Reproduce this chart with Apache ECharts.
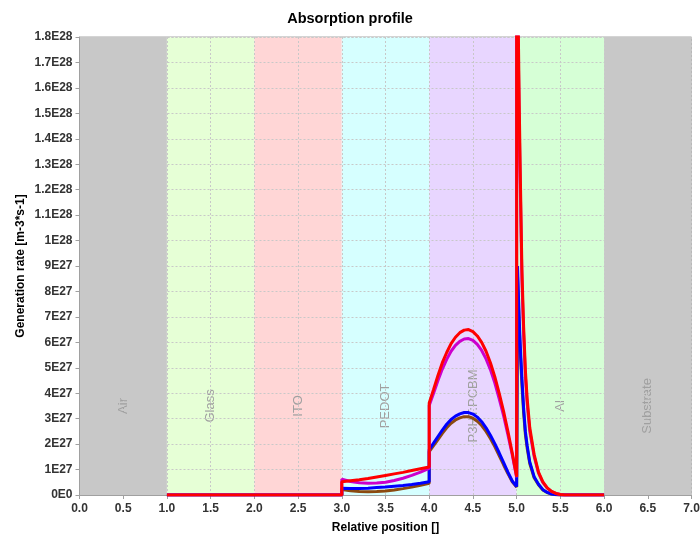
<!DOCTYPE html>
<html>
<head>
<meta charset="utf-8">
<script src="https://cdn.jsdelivr.net/npm/echarts@6/dist/echarts.min.js"></script>
<style>
  html, body { margin: 0; padding: 0; background: #ffffff; }
  #chart { width: 700px; height: 542px; }
</style>
</head>
<body>
<div id="chart"></div>
<script>
// Layer stack along the relative position axis
const layerNames = ['Air', 'Glass', 'ITO', 'PEDOT', 'P3HT:PCBM', 'Al', 'Substrate'];
const layerStart = [0, 1, 2, 3, 4, 5, 6];
const layerEnd   = [1, 2, 3, 4, 5, 6, 7];
const layerColors = ['#c8c8c8', '#e6ffd6', '#ffd6d6', '#d6ffff', '#e8d6ff', '#d6ffd6', '#c8c8c8'];

// Generation rate values are given in units of 1E27 m^-3 s^-1
const UNIT = 1e27;

// Glass and ITO: no generation
const frontX = [1.0, 3.0];
const frontZero = [0, 0];

// PEDOT layer
const pedotX = [3.0, 3.1, 3.2, 3.3, 3.4, 3.5, 3.6, 3.7, 3.8, 3.9, 4.0];
const pedotBrown   = [0.22, 0.17, 0.14, 0.13, 0.14, 0.16, 0.20, 0.25, 0.31, 0.38, 0.46];
const pedotBlue    = [0.27, 0.26, 0.26, 0.27, 0.29, 0.31, 0.34, 0.37, 0.41, 0.46, 0.52];
const pedotMagenta = [0.62, 0.53, 0.48, 0.46, 0.47, 0.50, 0.57, 0.66, 0.77, 0.90, 1.05];
const pedotRed     = [0.52, 0.56, 0.60, 0.65, 0.71, 0.77, 0.83, 0.89, 0.96, 1.03, 1.10];

// P3HT:PCBM active layer
const activeX = [4.0, 4.05, 4.1, 4.15, 4.2, 4.25, 4.3, 4.35, 4.4, 4.45, 4.5,
                 4.55, 4.6, 4.65, 4.7, 4.75, 4.8, 4.85, 4.9, 4.95, 5.0];
const activeBrown   = [1.70, 1.94, 2.18, 2.42, 2.64, 2.82, 2.95, 3.03, 3.08, 3.08, 3.02,
                       2.90, 2.73, 2.50, 2.22, 1.90, 1.55, 1.19, 0.84, 0.52, 0.31];
const activeBlue    = [1.78, 2.04, 2.30, 2.55, 2.78, 2.97, 3.10, 3.19, 3.24, 3.24, 3.18,
                       3.06, 2.88, 2.64, 2.35, 2.02, 1.66, 1.28, 0.90, 0.55, 0.33];
const activeMagenta = [3.52, 4.00, 4.50, 4.95, 5.33, 5.65, 5.88, 6.04, 6.13, 6.15, 6.08,
                       5.92, 5.68, 5.35, 4.93, 4.41, 3.79, 3.13, 2.37, 1.57, 0.70];
const activeRed     = [3.62, 4.15, 4.70, 5.20, 5.60, 5.95, 6.20, 6.38, 6.48, 6.50, 6.42,
                       6.25, 6.00, 5.65, 5.20, 4.65, 4.00, 3.30, 2.50, 1.65, 0.72];

// Al electrode
const alX = [5.0, 5.01, 5.02, 5.03, 5.04, 5.06, 5.08, 5.1, 5.12, 5.15,
             5.2, 5.25, 5.3, 5.35, 5.4, 5.45, 5.5, 5.55, 6.0];
const alBrown   = [0.31, 8.6, 7.5, 6.55, 5.7, 4.37, 3.23, 2.38, 1.85, 1.24,
                   0.68, 0.40, 0.20, 0.095, 0.038, 0.014, 0, 0, 0];
const alBlue    = [0.33, 9.0, 7.9, 6.9, 6.0, 4.6, 3.4, 2.5, 1.95, 1.3,
                   0.72, 0.42, 0.21, 0.10, 0.04, 0.015, 0, 0, 0];
const alMagenta = [22.8, 20.0, 17.1, 14.5, 12.4, 8.5, 6.3, 4.65, 3.6, 2.5,
                   1.52, 0.86, 0.49, 0.27, 0.13, 0.06, 0.02, 0, 0];
const alRed     = [24.0, 21.0, 18.0, 15.3, 13.0, 8.9, 6.6, 4.9, 3.8, 2.65,
                   1.6, 0.9, 0.52, 0.28, 0.14, 0.06, 0.02, 0, 0];

function pairs(xs, ys) {
  return xs.map((x, i) => [x, ys[i] * UNIT]);
}
function profile(pedot, active, al) {
  return [].concat(
    pairs(frontX, frontZero),
    pairs(pedotX, pedot),
    pairs(activeX, active),
    pairs(alX, al)
  );
}

const profiles = [
  { name: 'brown',   color: '#8b4a10', data: profile(pedotBrown, activeBrown, alBrown) },
  { name: 'blue',    color: '#0000ff', data: profile(pedotBlue, activeBlue, alBlue) },
  { name: 'magenta', color: '#cc00cc', data: profile(pedotMagenta, activeMagenta, alMagenta) },
  { name: 'red',     color: '#ff0000', data: profile(pedotRed, activeRed, alRed) }
];

function sciLabel(v) {
  if (v === 0) return '0E0';
  const e = Math.floor(Math.log10(Math.abs(v)) + 1e-9);
  const m = Math.round(v / Math.pow(10, e) * 10) / 10;
  return m + 'E' + e;
}

const FONT = '"Liberation Sans", Arial, sans-serif';
const LAYER_LABEL_Y = 3.5 * UNIT;

const layerSeries = {
  type: 'custom',
  name: 'layers',
  z: 0,
  silent: true,
  encode: { x: [0, 1] },
  data: layerStart.map((s, i) => [s, layerEnd[i], i]),
  renderItem: function (params, api) {
    const i = api.value(2);
    const cs = params.coordSys;
    const x0 = api.coord([api.value(0), 0])[0];
    const x1 = api.coord([api.value(1), 0])[0];
    const mid = api.coord([(api.value(0) + api.value(1)) / 2, LAYER_LABEL_Y]);
    return {
      type: 'group',
      children: [
        {
          type: 'rect',
          shape: { x: x0, y: cs.y, width: x1 - x0, height: cs.height },
          style: { fill: layerColors[i] }
        },
        {
          type: 'text',
          x: mid[0],
          y: mid[1],
          rotation: Math.PI / 2,
          style: {
            text: layerNames[i],
            fill: '#a0a0a0',
            font: '13px ' + FONT,
            align: 'center',
            verticalAlign: 'middle'
          }
        }
      ]
    };
  }
};

const chart = echarts.init(document.getElementById('chart'), null, { renderer: 'canvas' });
chart.setOption({
  animation: false,
  backgroundColor: '#ffffff',
  title: {
    text: 'Absorption profile',
    left: 'center',
    top: 6,
    textStyle: { fontFamily: FONT, fontSize: 14.5, fontWeight: 'bold', color: '#000' }
  },
  grid: {
    left: 79.5, right: 8.5, top: 37, bottom: 47,
    outerBoundsMode: 'none',
    containLabel: false,
    show: true, borderColor: '#a8a8a8', borderWidth: 1, backgroundColor: 'transparent'
  },
  xAxis: {
    type: 'value',
    min: 0, max: 7, interval: 0.5,
    z: 1,
    name: 'Relative position []',
    nameLocation: 'middle',
    nameGap: 27,
    nameMoveOverlap: false,
    nameTextStyle: { fontFamily: FONT, fontSize: 12, fontWeight: 'bold', color: '#000' },
    axisLine: { show: true, onZero: false, lineStyle: { color: '#a0a0a0' } },
    axisTick: { show: true, length: 4, lineStyle: { color: '#a0a0a0' } },
    axisLabel: {
      margin: 8,
      hideOverlap: false,
      fontFamily: FONT, fontSize: 12, fontWeight: 'bold', color: '#333',
      formatter: v => v.toFixed(1)
    },
    splitLine: { show: true, lineStyle: { color: '#c8c8c8', type: [2, 2], width: 1 } }
  },
  yAxis: {
    type: 'value',
    min: 0, max: 18 * UNIT, interval: UNIT,
    z: 1,
    name: 'Generation rate [m-3*s-1]',
    nameLocation: 'middle',
    nameGap: 53,
    nameMoveOverlap: false,
    nameTextStyle: { fontFamily: FONT, fontSize: 12, fontWeight: 'bold', color: '#000' },
    axisLine: { show: true, lineStyle: { color: '#a0a0a0' } },
    axisTick: { show: true, length: 4, lineStyle: { color: '#a0a0a0' } },
    axisLabel: {
      margin: 7,
      fontFamily: FONT, fontSize: 12, fontWeight: 'bold', color: '#333',
      formatter: sciLabel
    },
    splitLine: { show: true, lineStyle: { color: '#c8c8c8', type: [2, 2], width: 1 } }
  },
  series: [layerSeries].concat(profiles.map(p => ({
    type: 'line',
    name: p.name,
    z: 2,
    data: p.data,
    showSymbol: false,
    symbol: 'none',
    clip: true,
    smooth: false,
    lineStyle: { color: p.color, width: 3 },
    itemStyle: { color: p.color }
  })))
});
</script>
</body>
</html>
